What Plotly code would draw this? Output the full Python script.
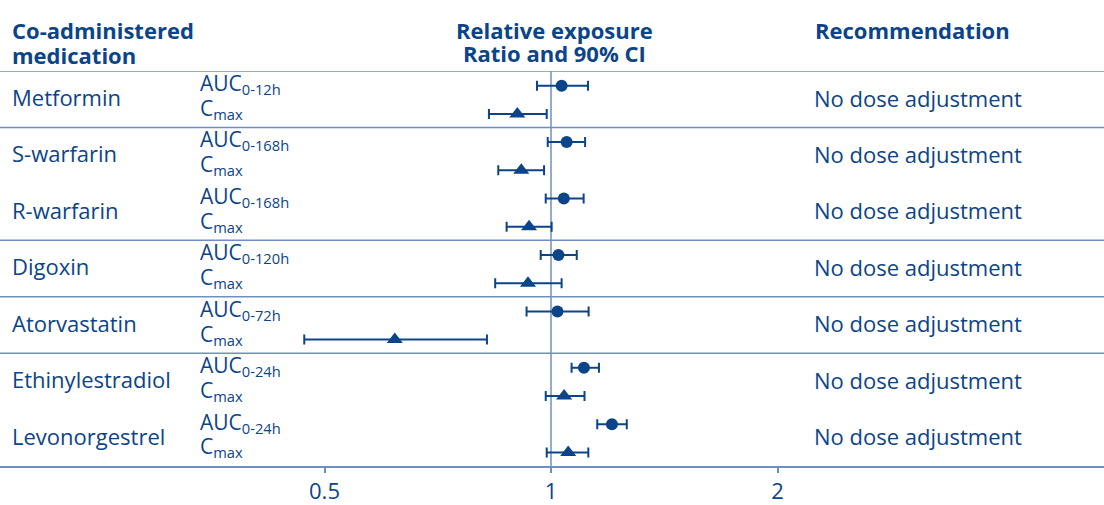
import plotly.graph_objects as go
import math

drugs = ["Metformin", "S-warfarin", "R-warfarin", "Digoxin", "Atorvastatin",
         "Ethinylestradiol", "Levonorgestrel"]
auc_labels = ["0-12h", "0-168h", "0-168h", "0-120h", "0-72h", "0-24h", "0-24h"]
recommendations = ["No dose adjustment"] * 7

auc_ratio = [1.033, 1.049, 1.040, 1.023, 1.020, 1.106, 1.205]
auc_low = [0.958, 0.990, 0.984, 0.969, 0.928, 1.065, 1.152]
auc_high = [1.120, 1.110, 1.105, 1.082, 1.122, 1.158, 1.261]

cmax_ratio = [0.902, 0.913, 0.935, 0.932, 0.620, 1.041, 1.054]
cmax_low = [0.827, 0.851, 0.873, 0.843, 0.470, 0.984, 0.987]
cmax_high = [0.987, 0.979, 1.002, 1.033, 0.822, 1.108, 1.121]

tick_vals = [0.5, 1, 2]
tick_text = ["0.5", "1", "2"]
separators = [0, 1, 3, 4, 5]  # row boundaries with a horizontal rule

DARK = "#0c4489"
LINE = "#6f8fc2"
FONT = "Open Sans"

W, H = 1104, 505
TOP, BOT = 71, 468
PH = BOT - TOP


def py(ypix):
    return (BOT - ypix) / PH


n = len(drugs)
auc_y = [i + 0.26 for i in range(n)]
cmax_y = [i + 0.76 for i in range(n)]

fig = go.Figure()
fig.add_trace(go.Scatter(
    x=auc_ratio, y=auc_y, mode="markers",
    marker=dict(symbol="circle", size=12, color=DARK),
    error_x=dict(type="data", symmetric=False,
                 array=[h - r for h, r in zip(auc_high, auc_ratio)],
                 arrayminus=[r - l for r, l in zip(auc_ratio, auc_low)],
                 color=DARK, thickness=2, width=5),
    showlegend=False, hoverinfo="skip"))
fig.add_trace(go.Scatter(
    x=cmax_ratio, y=cmax_y, mode="markers",
    marker=dict(symbol="triangle-up", size=14, color=DARK),
    error_x=dict(type="data", symmetric=False,
                 array=[h - r for h, r in zip(cmax_high, cmax_ratio)],
                 arrayminus=[r - l for r, l in zip(cmax_ratio, cmax_low)],
                 color=DARK, thickness=2, width=5),
    showlegend=False, hoverinfo="skip"))

shapes = []
for s in separators:
    shapes.append(dict(type="line", xref="paper", yref="y", x0=0, x1=1, y0=s, y1=s,
                       line=dict(color=LINE, width=1.5), layer="below"))
shapes.append(dict(type="line", xref="x", yref="y", x0=1, x1=1, y0=0, y1=n,
                   line=dict(color=LINE, width=1.5), layer="below"))

ann = []
for i, d in enumerate(drugs):
    ann.append(dict(x=10 / W, y=i + 0.46, xref="paper", yref="y", text=d,
                    showarrow=False, xanchor="left", yanchor="middle",
                    font=dict(size=22, color=DARK, family=FONT)))
    ann.append(dict(x=198 / W, y=auc_y[i] - 0.03, xref="paper", yref="y",
                    text="AUC<sub>" + auc_labels[i] + "</sub>",
                    showarrow=False, xanchor="left", yanchor="middle",
                    font=dict(size=21, color=DARK, family=FONT)))
    ann.append(dict(x=198 / W, y=cmax_y[i] - 0.09, xref="paper", yref="y",
                    text="C<sub>max</sub>",
                    showarrow=False, xanchor="left", yanchor="middle",
                    font=dict(size=21, color=DARK, family=FONT)))
    ann.append(dict(x=812 / W, y=i + 0.47, xref="paper", yref="y", text=recommendations[i],
                    showarrow=False, xanchor="left", yanchor="middle",
                    font=dict(size=22, color=DARK, family=FONT)))

headers = [
    ("Co-administered", 10, 30, "left"),
    ("medication", 10, 55, "left"),
    ("Relative exposure", 554, 30, "center"),
    ("Ratio and 90% CI", 554, 53, "center"),
    ("Recommendation", 813, 30, "left"),
]
for txt, xp, yp, anc in headers:
    ann.append(dict(x=xp / W, y=py(yp), xref="paper", yref="paper",
                    text="<b>" + txt + "</b>", showarrow=False,
                    xanchor=anc, yanchor="middle",
                    font=dict(size=22, color=DARK, family=FONT)))

lo = (0 - 551) / 226.5 * math.log10(2)
hi = (W - 551) / 226.5 * math.log10(2)

fig.update_layout(
    width=W, height=H,
    margin=dict(l=0, r=0, t=TOP, b=H - BOT),
    paper_bgcolor="white", plot_bgcolor="white",
    shapes=shapes, annotations=ann,
    xaxis=dict(type="log", range=[lo, hi], tickvals=tick_vals, ticktext=tick_text,
               showgrid=False, zeroline=False, showline=True, linecolor=LINE, linewidth=1.5,
               ticks="outside", ticklen=5, tickcolor=LINE, tickwidth=1.5,
               tickfont=dict(size=22, color=DARK, family=FONT)),
    yaxis=dict(range=[n, 0], showgrid=False, zeroline=False, showticklabels=False,
               showline=False, ticks=""),
    font=dict(family=FONT, color=DARK),
)

fig.write_html("out.html", config={"displayModeBar": False},
               post_script="document.body.style.margin='0';document.body.style.overflow='hidden';")
